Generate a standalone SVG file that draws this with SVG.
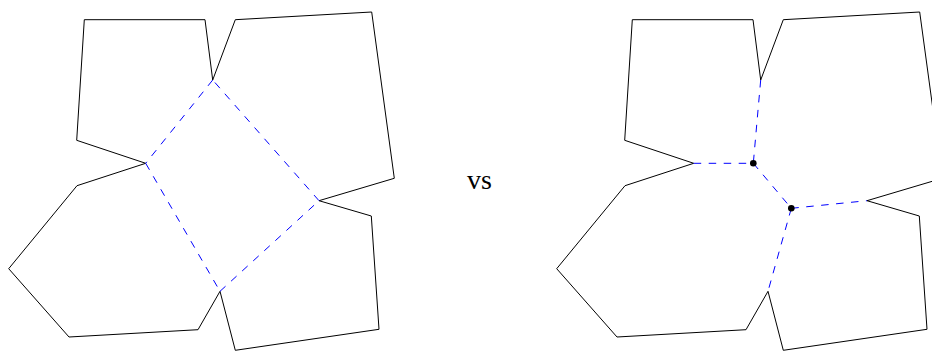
<svg xmlns="http://www.w3.org/2000/svg" width="932" height="351" viewBox="0 0 932 351">
  <style>
    .cell { fill: none; stroke: #000; stroke-width: 1; stroke-linejoin: miter; }
    .dual { fill: none; stroke: #0000ff; stroke-width: 1; stroke-dasharray: 7.5 7.5; }
    .vertex { fill: #000; }
    .label { font-family: "Liberation Serif", "DejaVu Serif", serif; font-size: 28px; fill: #000; }
  </style>
  <defs>
    <!-- four cells meeting around a gap; each outline stops at the shared corners -->
    <g id="cells">
      <polyline class="cell" points="145.7,163.3 76.7,140.3 84.3,19.7 205,19.7 212.7,80"/>
      <polyline class="cell" points="212.7,80 235.3,19.7 371.7,12 394.3,178.3 319,200.7"/>
      <polyline class="cell" points="145.7,163.3 77,185.7 8.7,268.7 69,337 198,329.7 220,291.3"/>
      <polyline class="cell" points="319,200.7 371.3,216 379,329.3 235.3,350.3 220,291.3"/>
    </g>
  </defs>

  <!-- left: a single quadrilateral joint -->
  <g id="left-cells"><use href="#cells"/></g>
  <g id="left-connectors">
    <line class="dual" x1="212.7" y1="80" x2="145.7" y2="163.3"/>
    <line class="dual" x1="145.7" y1="163.3" x2="220" y2="291.3"/>
    <line class="dual" x1="220" y1="291.3" x2="319" y2="200.7"/>
    <line class="dual" x1="319" y1="200.7" x2="212.7" y2="80"/>
  </g>

  <g id="vs"><text class="label" x="467" y="189">vs</text></g>

  <!-- right: two trivalent joints -->
  <g id="right-cells" transform="translate(548,0)"><use href="#cells"/></g>
  <g id="right-connectors">
    <line class="dual" x1="760.7" y1="80" x2="753.3" y2="163.3"/>
    <line class="dual" x1="693.7" y1="163.3" x2="753.3" y2="163.3"/>
    <line class="dual" x1="753.3" y1="163.3" x2="791.3" y2="208.3"/>
    <line class="dual" x1="791.3" y1="208.3" x2="867" y2="200.7"/>
    <line class="dual" x1="791.3" y1="208.3" x2="768" y2="291.3"/>
  </g>
  <g id="joint-1"><circle class="vertex" cx="753.3" cy="163.3" r="3.3"/></g>
  <g id="joint-2"><circle class="vertex" cx="791.3" cy="208.3" r="3.3"/></g>
</svg>
